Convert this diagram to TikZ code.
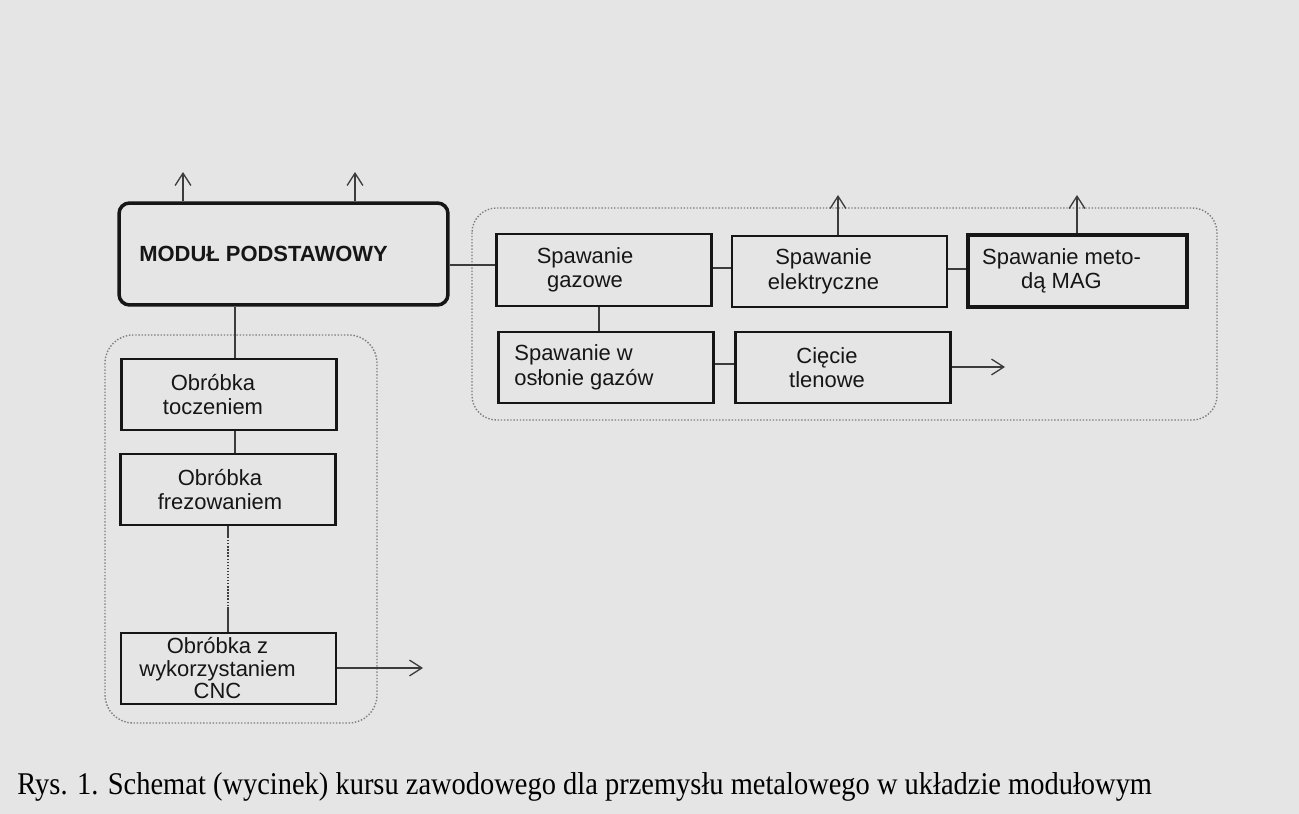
\documentclass[tikz,border=0pt]{standalone}
\usepackage{fontspec}
\setmainfont{Liberation Sans}
\newfontfamily\capfont[FakeStretch=0.9]{Liberation Serif}
\usetikzlibrary{arrows.meta}
\definecolor{paper}{RGB}{229,229,229}
\definecolor{inkline}{RGB}{22,22,22}
\definecolor{linkgray}{RGB}{60,60,60}
\definecolor{dotgray}{RGB}{125,125,125}

\begin{document}
\begin{tikzpicture}[
    x=0.02cm, y=-0.02cm,
    >={Straight Barb[length=7pt, width=9pt]},
    box/.style={draw=inkline, line width=1.2pt, minimum width=4.3cm, minimum height=1.43cm, inner sep=1pt},
    lbl/.style={xshift=-0.32cm, align=center, inner sep=0pt, text=inkline, font=\fontsize{12.5}{14}\selectfont},
    link/.style={linkgray, line width=0.75pt},
    region/.style={dotgray, densely dotted, line width=0.8pt}
]

% Paper
\fill[paper] (0,0) rectangle (1299,814);

% Dotted groups
\draw[region, rounded corners=16pt] (105,335) rectangle (377,723);
\draw[region, rounded corners=14pt] (472,208) rectangle (1217,420);

% Base module
\node[box, line width=2pt, rounded corners=6pt, minimum width=6.58cm, minimum height=2.04cm, label={[lbl, xshift=-0.08cm]center:\bfseries MODUŁ PODSTAWOWY}] (modul) at (283.5,254) {};

% Machining column
\node[box, label={[lbl]center:Obróbka\\toczeniem}] (tocz) at (229,394.5) {};
\node[box, label={[lbl, xshift=0.16cm]center:Obróbka\\frezowaniem}] (frez) at (228,489.5) {};
\node[box, label={[lbl, xshift=0.1cm, font=\fontsize{12.5}{12.8}\selectfont]center:Obróbka z\\wykorzystaniem\\CNC}] (cnc) at (228.5,668.5) {};

% Welding group
\node[box, label={[lbl, xshift=-0.06cm]center:Spawanie\\gazowe}] (gaz) at (604,270) {};
\node[box, label={[lbl]center:Spawanie\\elektryczne}] (elek) at (839.5,271.5) {};
\node[box, line width=2.4pt, minimum width=4.38cm, label={[lbl]center:Spawanie meto-\\dą MAG}] (mag) at (1077.5,271) {};
\node[box, label={[lbl, xshift=-0.12cm, align=left]center:Spawanie w\\osłonie gazów}] (oslon) at (606,367.5) {};
\node[box, label={[lbl]center:Cięcie\\tlenowe}] (ciecie) at (843,367.5) {};

% Free ends
\coordinate (upA) at (183,172);
\coordinate (upB) at (355,172);
\coordinate (upC) at (838,195);
\coordinate (upD) at (1077,195);
\coordinate (outCnc) at (423,668);
\coordinate (outCut) at (1005,367);
\coordinate (gapA) at (228,537);
\coordinate (gapB) at (228,607);

% Connectors
\draw[link, ->] (upA |- modul.north) -- (upA);
\draw[link, ->] (upB |- modul.north) -- (upB);
\draw[link] (tocz.north -| 235,0) -- (modul.south -| 235,0);
\draw[link] (frez.north -| 235,0) -- (tocz.south -| 235,0);
\draw[link] (frez.south -| gapA) -- (gapA);
\draw[link, densely dotted] (gapA) -- (gapB);
\draw[link] (gapB) -- (gapB |- cnc.north);
\draw[link, ->] (cnc.east |- outCnc) -- (outCnc);

\draw[link] (modul.east |- 0,265) -- (gaz.west |- 0,265);
\draw[link] (gaz.east |- 0,268) -- (elek.west |- 0,268);
\draw[link] (elek.east |- 0,269) -- (mag.west |- 0,269);
\draw[link] (gaz.south -| 599,0) -- (oslon.north -| 599,0);
\draw[link] (oslon.east |- 0,364) -- (ciecie.west |- 0,364);
\draw[link, ->] (upC |- elek.north) -- (upC);
\draw[link, ->] (upD |- mag.north) -- (upD);
\draw[link, ->] (ciecie.east |- outCut) -- (outCut);

% Caption
\node[anchor=west, font=\capfont\fontsize{18}{20}\selectfont, inner sep=0pt] (caption) at (17,787) {Rys. 1. Schemat (wycinek) kursu zawodowego dla przemysłu metalowego w układzie modułowym};

\end{tikzpicture}
\end{document}
